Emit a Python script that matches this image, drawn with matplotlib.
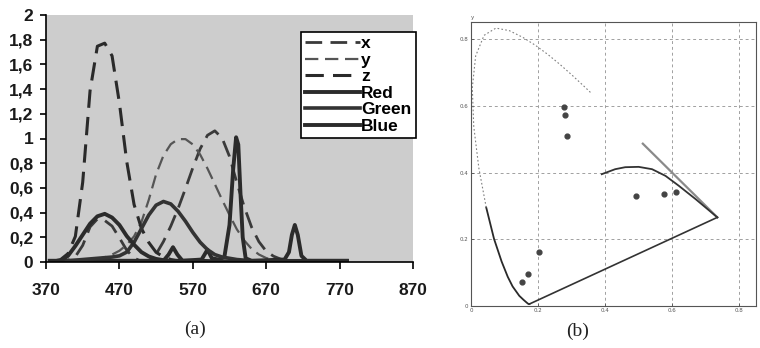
import numpy as np
import matplotlib
matplotlib.use("Agg")
import matplotlib.pyplot as plt
from matplotlib.ticker import FuncFormatter

# --- panel (a): curves (10 nm steps) ---
wl = [380, 390, 400, 410, 420, 430, 440, 450, 460, 470, 480, 490, 500, 510, 520,
      530, 540, 550, 560, 570, 580, 590, 600, 610, 620, 630, 640, 650, 660, 670,
      680, 690, 700, 710, 720, 730, 740, 750, 760, 770, 780]
x_bar = [0.0014, 0.0042, 0.0143, 0.0435, 0.1344, 0.2839, 0.3483, 0.3362, 0.2908, 0.1954,
         0.0956, 0.0320, 0.0049, 0.0093, 0.0633, 0.1655, 0.2904, 0.4334, 0.5945, 0.7621,
         0.9163, 1.0263, 1.0622, 1.0026, 0.8544, 0.6424, 0.4479, 0.2835, 0.1649, 0.0874,
         0.0468, 0.0227, 0.0114, 0.0058, 0.0029, 0.0014, 0.0007, 0.0003, 0.0002, 0.0001, 0.0]
y_bar = [0.0, 0.0001, 0.0004, 0.0012, 0.0040, 0.0116, 0.0230, 0.0380, 0.0600, 0.0910,
         0.1390, 0.2080, 0.3230, 0.5030, 0.7100, 0.8620, 0.9540, 0.9950, 0.9950, 0.9520,
         0.8700, 0.7570, 0.6310, 0.5030, 0.3810, 0.2650, 0.1750, 0.1070, 0.0610, 0.0320,
         0.0170, 0.0082, 0.0041, 0.0021, 0.0010, 0.0005, 0.0003, 0.0001, 0.0001, 0.0, 0.0]
z_bar = [0.0065, 0.0201, 0.0679, 0.2074, 0.6456, 1.3856, 1.7471, 1.7721, 1.6692, 1.2876,
         0.8130, 0.4652, 0.2720, 0.1582, 0.0782, 0.0422, 0.0203, 0.0087, 0.0039, 0.0021,
         0.0017, 0.0011, 0.0008, 0.0003, 0.0002, 0.0, 0.0, 0.0, 0.0, 0.0,
         0.0, 0.0, 0.0, 0.0, 0.0, 0.0, 0.0, 0.0, 0.0, 0.0, 0.0]
blue = [0.0, 0.01, 0.05, 0.13, 0.22, 0.31, 0.37, 0.39, 0.36, 0.30,
        0.21, 0.14, 0.08, 0.045, 0.025, 0.015, 0.01, 0.01, 0.01, 0.01,
        0.01, 0.008, 0.006, 0.005, 0.005, 0.005, 0.005, 0.005, 0.005, 0.005,
        0.005, 0.005, 0.005, 0.005, 0.005, 0.005, 0.005, 0.005, 0.005, 0.005, 0.005]
green = [0.0, 0.005, 0.01, 0.015, 0.02, 0.025, 0.03, 0.035, 0.04, 0.05,
         0.08, 0.16, 0.27, 0.38, 0.46, 0.49, 0.47, 0.41, 0.33, 0.24,
         0.16, 0.10, 0.06, 0.04, 0.03, 0.02, 0.015, 0.01, 0.01, 0.01,
         0.01, 0.01, 0.01, 0.01, 0.01, 0.01, 0.01, 0.01, 0.01, 0.01, 0.01]

red_wl = [375, 530, 537, 543, 549, 556, 582, 590, 596, 605, 613, 620, 625, 629,
          632, 635, 638, 642, 650, 695, 701, 705, 709, 713, 718, 725, 780]
red = [0.01, 0.01, 0.06, 0.12, 0.06, 0.01, 0.02, 0.10, 0.03, 0.02, 0.04, 0.30, 0.75, 1.01,
       0.95, 0.55, 0.20, 0.03, 0.01, 0.02, 0.08, 0.22, 0.30, 0.22, 0.05, 0.01, 0.01]

# --- panel (b): chromaticity points ---
loc_blue_x = [0.1741, 0.1733, 0.1714, 0.1666, 0.1566, 0.1440, 0.1241, 0.1096, 0.0913, 0.0687, 0.0454]
loc_blue_y = [0.0050, 0.0048, 0.0051, 0.0089, 0.0177, 0.0297, 0.0578, 0.0868, 0.1327, 0.2007, 0.2950]
loc_green_x = [0.0454, 0.0235, 0.0082, 0.0039, 0.0139, 0.0389, 0.0743, 0.1142, 0.1547, 0.1929,
               0.2296, 0.2658, 0.3016, 0.3373, 0.3600]
loc_green_y = [0.2950, 0.4127, 0.5384, 0.6548, 0.7502, 0.8120, 0.8338, 0.8262, 0.8059, 0.7816,
               0.7543, 0.7243, 0.6923, 0.6589, 0.6370]
loc_red_x = [0.5125, 0.5752, 0.6270, 0.6658, 0.6915, 0.7190, 0.7347]
loc_red_y = [0.4866, 0.4242, 0.3725, 0.3340, 0.3083, 0.2809, 0.2653]
purple_x = [0.1741, 0.7347]
purple_y = [0.0050, 0.2653]
arc_x = [0.39, 0.43, 0.46, 0.50, 0.54, 0.58, 0.62, 0.67, 0.7347]
arc_y = [0.395, 0.410, 0.416, 0.417, 0.410, 0.390, 0.360, 0.320, 0.2653]
dots_x = [0.153, 0.169, 0.204, 0.278, 0.281, 0.287, 0.493, 0.577, 0.610]
dots_y = [0.072, 0.095, 0.160, 0.596, 0.574, 0.510, 0.328, 0.335, 0.340]

fig = plt.figure(figsize=(7.6, 3.48), dpi=100)
fig.patch.set_facecolor("white")

# ---------------- (a) ----------------
ax = fig.add_axes([46/760, 1-262/348, 367/760, 247/348])
ax.set_facecolor("#cdcdcd")
dash = (6, 3)
ax.plot(wl, x_bar, color="#3a3a3a", lw=2.0, dashes=dash, label="x")
ax.plot(wl, y_bar, color="#555555", lw=1.6, dashes=dash, label="y")
ax.plot(wl, z_bar, color="#2a2a2a", lw=2.2, dashes=dash, label="z")
ax.plot(red_wl, red, color="#2b2b2b", lw=2.8, label="Red")
ax.plot(wl, green, color="#333333", lw=2.6, label="Green")
ax.plot(wl, blue, color="#2b2b2b", lw=2.8, label="Blue")

ax.set_xlim(370, 870)
ax.set_ylim(0, 2)
ax.set_xticks(np.arange(370, 871, 100))
ax.set_yticks(np.arange(0, 2.01, 0.2))
ax.yaxis.set_major_formatter(FuncFormatter(lambda v, p: ("%g" % round(v, 1)).replace(".", ",")))
for s in ["top", "right"]:
    ax.spines[s].set_visible(False)
ax.spines["left"].set_linewidth(1.2)
ax.spines["bottom"].set_linewidth(1.2)
ax.tick_params(axis="x", direction="out", length=5, width=1.2, pad=10, labelsize=12.5)
ax.tick_params(axis="y", direction="out", length=4, width=1.2, pad=5, labelsize=12.5)
for t in ax.get_xticklabels() + ax.get_yticklabels():
    t.set_fontweight("bold")
    t.set_family("Liberation Sans")
    t.set_color("#1a1a1a")

leg = ax.legend(loc="upper right", bbox_to_anchor=(1.008, 0.932), frameon=True, fancybox=False,
                edgecolor="black", framealpha=1.0, handlelength=3.2, handletextpad=0.05,
                labelspacing=0.08, borderpad=0.25, borderaxespad=0.0,
                prop={"family": "Liberation Sans", "weight": "bold", "size": 12.5})
leg.get_frame().set_linewidth(1.2)

# ---------------- (b) ----------------
bx = fig.add_axes([471/760, 1-305.7/348, 285/760, 284/348])
bx.set_xlim(0, 0.85)
bx.set_ylim(0, 0.853)
bx.set_xticks([0, 0.2, 0.4, 0.6, 0.8])
bx.set_yticks([0, 0.2, 0.4, 0.6, 0.8])
bx.set_xticklabels(["0", "0.2", "0.4", "0.6", "0.8"])
bx.set_yticklabels(["0", "0.2", "0.4", "0.6", "0.8"])
bx.grid(True, color="#a0a0a0", lw=0.7, linestyle=(0, (3, 3)))
bx.tick_params(direction="in", length=2, width=0.6, labelsize=4, colors="#555555", pad=2)
for s in bx.spines.values():
    s.set_linewidth(0.8)
    s.set_color("#555555")

bx.plot(loc_blue_x, loc_blue_y, color="#2a2a2a", lw=1.3)
bx.plot(loc_green_x, loc_green_y, color="#808080", lw=0.8, linestyle=(0, (1.5, 2)))
bx.plot(loc_red_x, loc_red_y, color="#8a8a8a", lw=1.6)
bx.plot(purple_x, purple_y, color="#333333", lw=1.2)
bx.plot(arc_x, arc_y, color="#333333", lw=1.3)
bx.scatter(dots_x, dots_y, s=12, color="#444444", zorder=3)
bx.text(0.0, 0.858, "y", fontsize=4, color="#555555", ha="left", va="bottom")

fig.text(195/760, 1-329/348, "(a)", ha="center", va="center",
         family="Liberation Serif", fontsize=14, color="#222222")
fig.text(578/760, 1-331/348, "(b)", ha="center", va="center",
         family="Liberation Serif", fontsize=14, color="#222222")

fig.savefig("out.png", dpi=100)
